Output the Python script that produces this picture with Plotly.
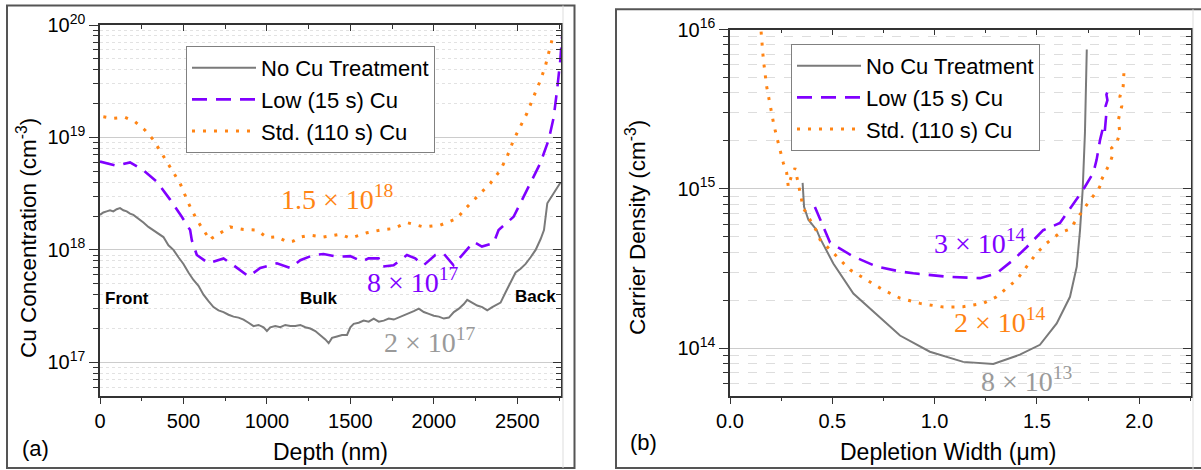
import math
import plotly.graph_objects as go

W, H = 1201, 470

# ---------------- panel (a): Cu concentration vs depth ----------------
depth_none = [0, 20, 40, 60, 80, 100, 120, 140, 160, 180, 200, 230, 260, 290, 320, 350,
              380, 410, 440, 470, 500, 530, 560, 590, 620, 650, 680, 710, 740, 770, 800,
              830, 860, 890, 920, 950, 980, 1000, 1020, 1050, 1080, 1110, 1140, 1170, 1200,
              1230, 1260, 1290, 1320, 1350, 1370, 1390, 1420, 1450, 1480, 1500, 1520, 1550,
              1580, 1610, 1640, 1670, 1700, 1730, 1760, 1790, 1820, 1850, 1880, 1910, 1940,
              1970, 2000, 2030, 2060, 2090, 2120, 2150, 2180, 2200, 2230, 2260, 2290, 2320,
              2350, 2380, 2400, 2430, 2460, 2490, 2520, 2550, 2580, 2610, 2640, 2660, 2680,
              2700, 2730, 2760]
cu_none = [2.05e18, 2.15e18, 2.2e18, 2.25e18, 2.2e18, 2.3e18, 2.35e18, 2.25e18, 2.2e18,
           2.1e18, 2.05e18, 1.9e18, 1.75e18, 1.6e18, 1.5e18, 1.4e18, 1.3e18, 1.1e18, 1.0e18,
           8.6e17, 7.5e17, 6.3e17, 5.4e17, 4.8e17, 4.0e17, 3.5e17, 3.1e17, 2.9e17, 2.8e17,
           2.65e17, 2.55e17, 2.5e17, 2.4e17, 2.25e17, 2.1e17, 2.15e17, 2.05e17, 1.9e17,
           2.05e17, 2.1e17, 2.05e17, 2.15e17, 2.1e17, 2.1e17, 2.15e17, 2.05e17, 2.0e17,
           1.9e17, 1.75e17, 1.6e17, 1.48e17, 1.65e17, 1.7e17, 1.75e17, 1.75e17, 2.05e17,
           2.2e17, 2.25e17, 2.35e17, 2.3e17, 2.45e17, 2.3e17, 2.35e17, 2.45e17, 2.4e17,
           2.5e17, 2.6e17, 2.7e17, 2.85e17, 3.0e17, 2.8e17, 2.7e17, 2.6e17, 2.55e17,
           2.45e17, 2.5e17, 2.8e17, 3.0e17, 3.3e17, 3.6e17, 3.4e17, 3.2e17, 3.1e17, 2.9e17,
           3.1e17, 3.3e17, 3.4e17, 4.2e17, 5.2e17, 6.3e17, 6.8e17, 7.5e17, 8.6e17, 1.0e18,
           1.25e18, 1.5e18, 2.6e18, 2.9e18, 3.4e18, 4.0e18]

depth_low = [0, 100, 180, 260, 340, 420, 490, 540, 550, 580, 650, 740, 800, 890, 960, 1060,
             1140, 1200, 1279, 1339, 1419, 1499, 1569, 1609, 1669, 1689, 1759, 1839, 1889,
             1939, 2009, 2058, 2118, 2168, 2238, 2288, 2358, 2388, 2478, 2568, 2638, 2688,
             2718, 2738, 2758, 2768]
cu_low = [6.1e18, 5.6e18, 6.0e18, 5.1e18, 4.05e18, 2.8e18, 1.97e18, 1.5e18, 1.22e18, 9.0e17,
          7.6e17, 8.4e17, 7.3e17, 5.8e17, 6.9e17, 7.6e17, 6.9e17, 8.1e17, 9.0e17, 9.2e17,
          8.7e17, 8.8e17, 7.9e17, 8.4e17, 8.4e17, 7.1e17, 7.3e17, 9.0e17, 8.4e17, 7.3e17,
          9.0e17, 9.3e17, 7.3e17, 9.0e17, 1.18e18, 1.07e18, 1.15e18, 1.5e18, 1.97e18,
          3.65e18, 5.9e18, 9.5e18, 1.5e19, 2.6e19, 4.9e19, 7.9e19]

depth_std = [20, 80, 150, 210, 270, 320, 370, 420, 480, 530, 580, 620, 660, 670, 720, 780,
             860, 940, 1000, 1060, 1120, 1159, 1200, 1259, 1339, 1439, 1499, 1599, 1679,
             1759, 1839, 1939, 2039, 2138, 2198, 2278, 2338, 2398, 2438, 2478, 2518, 2558,
             2598, 2638, 2668, 2698, 2718]
cu_std = [1.53e19, 1.48e19, 1.51e19, 1.38e19, 1.16e19, 9.5e18, 7.2e18, 5.5e18, 3.9e18,
          2.6e18, 1.85e18, 1.5e18, 1.22e18, 1.27e18, 1.4e18, 1.6e18, 1.52e18, 1.5e18,
          1.29e18, 1.31e18, 1.18e18, 1.2e18, 1.3e18, 1.35e18, 1.3e18, 1.38e18, 1.27e18,
          1.42e18, 1.5e18, 1.55e18, 1.75e18, 1.6e18, 1.66e18, 1.9e18, 2.4e18, 3.2e18,
          3.9e18, 5.1e18, 6.7e18, 9.5e18, 1.25e19, 1.64e19, 2.3e19, 3.2e19, 4.3e19,
          6.4e19, 8.4e19]

# ---------------- panel (b): carrier density vs depletion width ----------------
w_none = [0.355, 0.362, 0.383, 0.424, 0.44, 0.505, 0.603, 0.717, 0.831, 0.977, 1.14,
          1.287, 1.417, 1.515, 1.597, 1.662, 1.695, 1.711, 1.724, 1.735, 1.744]
n_none = [1.09e15, 7.7e14, 6.4e14, 5.5e14, 4.9e14, 3.4e14, 2.2e14, 1.62e14, 1.2e14,
          9.5e13, 8.2e13, 7.96e13, 9.1e13, 1.05e14, 1.43e14, 2.1e14, 3.25e14, 5.5e14,
          9.9e14, 2.24e15, 7.5e15]

w_low = [0.415, 0.489, 0.603, 0.717, 0.831, 0.896, 1.059, 1.222, 1.303, 1.385, 1.45,
         1.531, 1.613, 1.67, 1.727, 1.776, 1.792, 1.809, 1.825, 1.832, 1.84, 1.836,
         1.845, 1.84, 1.849]
n_low = [7.7e14, 4.6e14, 3.76e14, 3.25e14, 3.03e14, 2.95e14, 2.81e14, 2.75e14, 2.95e14,
         3.58e14, 4.3e14, 5.5e14, 6.1e14, 7.7e14, 9.9e14, 1.26e15, 1.52e15, 2.03e15,
         2.47e15, 2.3e15, 3.0e15, 3.3e15, 3.6e15, 3.9e15, 4.2e15]

w_std = [0.152, 0.163, 0.179, 0.199, 0.215, 0.228, 0.244, 0.261, 0.277, 0.285, 0.3, 0.318,
         0.358, 0.391, 0.424, 0.44, 0.505, 0.587, 0.668, 0.749, 0.831, 0.929, 1.043,
         1.14, 1.238, 1.303, 1.352, 1.401, 1.45, 1.499, 1.548, 1.613, 1.662, 1.727, 1.76,
         1.8, 1.817, 1.81, 1.841, 1.857, 1.874, 1.865, 1.89, 1.906, 1.898, 1.915, 1.906,
         1.922, 1.926]
n_std = [9.7e15, 6.5e15, 4.4e15, 3.1e15, 2.5e15, 2.13e15, 1.76e15, 1.45e15, 1.26e15,
         1.03e15, 1.2e15, 1.35e15, 7.6e14, 6.4e14, 5.4e14, 4.8e14, 3.95e14, 3.1e14,
         2.68e14, 2.32e14, 2.06e14, 1.91e14, 1.81e14, 1.82e14, 1.91e14, 2.1e14, 2.38e14,
         2.68e14, 3.25e14, 3.95e14, 4.56e14, 5.3e14, 5.6e14, 7.4e14, 8.5e14, 9.9e14,
         1.09e15, 1.1e15, 1.32e15, 1.45e15, 1.68e15, 1.8e15, 1.94e15, 2.24e15, 2.7e15,
         3.3e15, 3.8e15, 4.4e15, 5.5e15]

series_names = ["No Cu Treatment", "Low (15 s) Cu", "Std. (110 s) Cu"]
GRAY, PURPLE, ORANGE = "#7a7a7a", "#8000ff", "#ff8414"

xticks_a = [0, 500, 1000, 1500, 2000, 2500]
xticks_b = [0.0, 0.5, 1.0, 1.5, 2.0]
xticktext_b = ["0.0", "0.5", "1.0", "1.5", "2.0"]
yexp_a = [17, 18, 19, 20]
yexp_b = [14, 15, 16]

SANS = "Liberation Sans, Arial, sans-serif"
SERIF = "Liberation Serif, Times New Roman, serif"
AXC = "#333333"


def px(x):
    return x / W


def py(y):
    return 1 - y / H


def minor_vals(e0, e1):
    return [k * 10.0 ** e for e in range(e0, e1) for k in range(2, 10)]


fig = go.Figure()

line_styles = [
    dict(color=GRAY, width=2),
    dict(color=PURPLE, width=2.6, dash="15px,9px"),
    dict(color=ORANGE, width=3, dash="3px,8px"),
]

for name, xs, ys, ln in zip(series_names,
                            [depth_none, depth_low, depth_std],
                            [cu_none, cu_low, cu_std], line_styles):
    fig.add_trace(go.Scatter(x=xs, y=ys, mode="lines", name=name, line=ln,
                             xaxis="x", yaxis="y", legend="legend"))

for name, xs, ys, ln in zip(series_names,
                            [w_none, w_low, w_std],
                            [n_none, n_low, n_std], line_styles):
    fig.add_trace(go.Scatter(x=xs, y=ys, mode="lines", name=name, line=ln,
                             xaxis="x2", yaxis="y2", legend="legend2"))

# empty traces that hold the mirrored (inside-tick) frame axes
for xa, ya in (("x3", "y3"), ("x4", "y4")):
    fig.add_trace(go.Scatter(x=[None], y=[None], xaxis=xa, yaxis=ya,
                             showlegend=False, hoverinfo="skip"))

dom_a_x = [px(100), px(561)]
dom_b_x = [px(730), px(1190.7)]
dom_y = [py(395.7), py(25)]
dom_y_b = [py(395.7), py(29.5)]

range_a_x = [0, 2762]
range_b_x = [0, 2.252]
range_a_y = [math.log10(5.05e16), 20]
range_b_y = [math.log10(5.03e13), 16]

tickfont = dict(family=SANS, size=20, color="black")

common_x = dict(showline=True, linecolor=AXC, linewidth=1.5, showgrid=False,
                zeroline=False, ticks="outside", ticklen=7, tickwidth=1.3,
                tickcolor=AXC, tickfont=tickfont, automargin=False)
common_y = dict(type="log", showline=True, linecolor=AXC, linewidth=1.5,
                zeroline=False, ticks="outside", ticklen=9, tickwidth=1.3,
                tickcolor=AXC, tickfont=tickfont, showgrid=True,
                gridcolor="#cccccc", gridwidth=1, automargin=False)
frame_common = dict(showline=True, linecolor=AXC, linewidth=1.5, showgrid=False,
                    zeroline=False, showticklabels=False, ticks="inside",
                    tickwidth=1.3, tickcolor=AXC, tickmode="array", automargin=False)

fig.update_layout(
    xaxis=dict(common_x, domain=dom_a_x, range=range_a_x, anchor="y",
               tickmode="array", tickvals=xticks_a,
               minor=dict(dtick=250, tick0=0, ticks="outside", ticklen=4,
                          tickcolor=AXC, tickwidth=1.2)),
    yaxis=dict(common_y, domain=dom_y, range=range_a_y, anchor="x",
               tickmode="array", tickvals=[10.0 ** e for e in yexp_a],
               ticktext=[f"10<sup>{e}</sup>" for e in yexp_a],
               minor=dict(tickmode="array", tickvals=minor_vals(16, 20),
                          ticks="outside", ticklen=5, tickcolor=AXC, tickwidth=1.2,
                          showgrid=True, gridcolor="#e2e2e2", griddash="dot",
                          gridwidth=1)),
    xaxis2=dict(common_x, domain=dom_b_x, range=range_b_x, anchor="y2",
                tickmode="array", tickvals=xticks_b, ticktext=xticktext_b,
                minor=dict(dtick=0.25, tick0=0, ticks="outside", ticklen=4,
                           tickcolor=AXC, tickwidth=1.2)),
    yaxis2=dict(common_y, domain=dom_y_b, range=range_b_y, anchor="x2",
                tickmode="array", tickvals=[10.0 ** e for e in yexp_b],
                ticktext=[f"10<sup>{e}</sup>" for e in yexp_b],
                minor=dict(tickmode="array", tickvals=minor_vals(13, 16),
                           ticks="outside", ticklen=5, tickcolor=AXC, tickwidth=1.2,
                           showgrid=True, gridcolor="#dddddd", griddash="dash",
                           gridwidth=1)),
    # frame axes on top / right with inward ticks
    xaxis3=dict(frame_common, overlaying="x", side="top", anchor="y3",
                range=range_a_x, ticklen=6, tickvals=xticks_a,
                minor=dict(dtick=250, tick0=0, ticks="inside", ticklen=4,
                           tickcolor=AXC, tickwidth=1.2)),
    yaxis3=dict(frame_common, overlaying="y", side="right", anchor="x3", type="log",
                range=range_a_y, ticklen=8, tickvals=[10.0 ** e for e in yexp_a],
                minor=dict(tickmode="array", tickvals=minor_vals(16, 20),
                           ticks="inside", ticklen=5, tickcolor=AXC, tickwidth=1.2)),
    xaxis4=dict(frame_common, overlaying="x2", side="top", anchor="y4",
                range=range_b_x, ticklen=6, tickvals=xticks_b,
                minor=dict(dtick=0.25, tick0=0, ticks="inside", ticklen=4,
                           tickcolor=AXC, tickwidth=1.2)),
    yaxis4=dict(frame_common, overlaying="y2", side="right", anchor="x4", type="log",
                range=range_b_y, ticklen=8, tickvals=[10.0 ** e for e in yexp_b],
                minor=dict(tickmode="array", tickvals=minor_vals(13, 16),
                           ticks="inside", ticklen=5, tickcolor=AXC, tickwidth=1.2)),
    legend=dict(x=px(186), y=py(46), xanchor="left", yanchor="top",
                bgcolor="white", bordercolor="#808080", borderwidth=1,
                font=dict(family=SANS, size=22, color="black"),
                tracegroupgap=0, itemwidth=64),
    legend2=dict(x=px(791), y=py(44), xanchor="left", yanchor="top",
                 bgcolor="white", bordercolor="#808080", borderwidth=1,
                 font=dict(family=SANS, size=22, color="black"),
                 tracegroupgap=0, itemwidth=64),
    width=W, height=H,
    margin=dict(l=0, r=0, t=0, b=0, pad=0, autoexpand=False),
    paper_bgcolor="white", plot_bgcolor="white",
    showlegend=True,
)

# panel frames
fig.add_shape(type="rect", xref="paper", yref="paper",
              x0=px(7), x1=px(574.5), y0=py(468), y1=py(5.5),
              line=dict(color="#555555", width=2))
fig.add_shape(type="rect", xref="paper", yref="paper",
              x0=px(616), x1=px(1215), y0=py(468), y1=py(9.3),
              line=dict(color="#555555", width=2))
fig.add_shape(type="line", xref="paper", yref="paper",
              x0=px(563), x1=px(563), y0=py(468), y1=py(5.5),
              line=dict(color="#dddddd", width=1))
fig.add_shape(type="line", xref="paper", yref="paper",
              x0=px(1193), x1=px(1193), y0=py(470), y1=py(9.3),
              line=dict(color="#dddddd", width=1))

ann = []


def label(text, x, y, xref="paper", yref="paper", size=22, color="black",
          family=SANS, angle=0, bold=False):
    if bold:
        text = f"<b>{text}</b>"
    ann.append(dict(text=text, x=x, y=y, xref=xref, yref=yref, showarrow=False,
                    xanchor="center", yanchor="middle", textangle=angle,
                    font=dict(family=family, size=size, color=color)))


# axis titles
label("Depth (nm)", px(330), py(452), size=23)
label("Depletion Width (μm)", px(948), py(452), size=23)
label("Cu Concentration (cm<sup>-3</sup>)", px(27), py(238), angle=-90, size=22.5)
label("Carrier Density (cm<sup>-3</sup>)", px(636), py(228), angle=-90, size=22.5)
label("(a)", px(35), py(448))
label("(b)", px(643), py(442))

# region labels
label("Front", 162, math.log10(3.73e17), "x", "y", size=17, bold=True)
label("Bulk", 1310, math.log10(3.73e17), "x", "y", size=17, bold=True)
label("Back", 2608, math.log10(3.84e17), "x", "y", size=17, bold=True)

# plateau values
label("1.5 × 10<sup>18</sup>", 1424, math.log10(2.9e18), "x", "y", size=28,
      color=ORANGE, family=SERIF)
label("8 × 10<sup>17</sup>", 1877, math.log10(5.3e17), "x", "y", size=28,
      color=PURPLE, family=SERIF)
label("2 × 10<sup>17</sup>", 1978, math.log10(1.55e17), "x", "y", size=28,
      color="#9a9a9a", family=SERIF)
label("3 × 10<sup>14</sup>", 1.222, math.log10(4.7e14), "x2", "y2", size=28,
      color=PURPLE, family=SERIF)
label("2 × 10<sup>14</sup>", 1.32, math.log10(1.5e14), "x2", "y2", size=28,
      color=ORANGE, family=SERIF)
label("8 × 10<sup>13</sup>", 1.451, math.log10(6.4e13), "x2", "y2", size=28,
      color="#9a9a9a", family=SERIF)

fig.update_layout(annotations=ann)

fig.write_html("out.html")
